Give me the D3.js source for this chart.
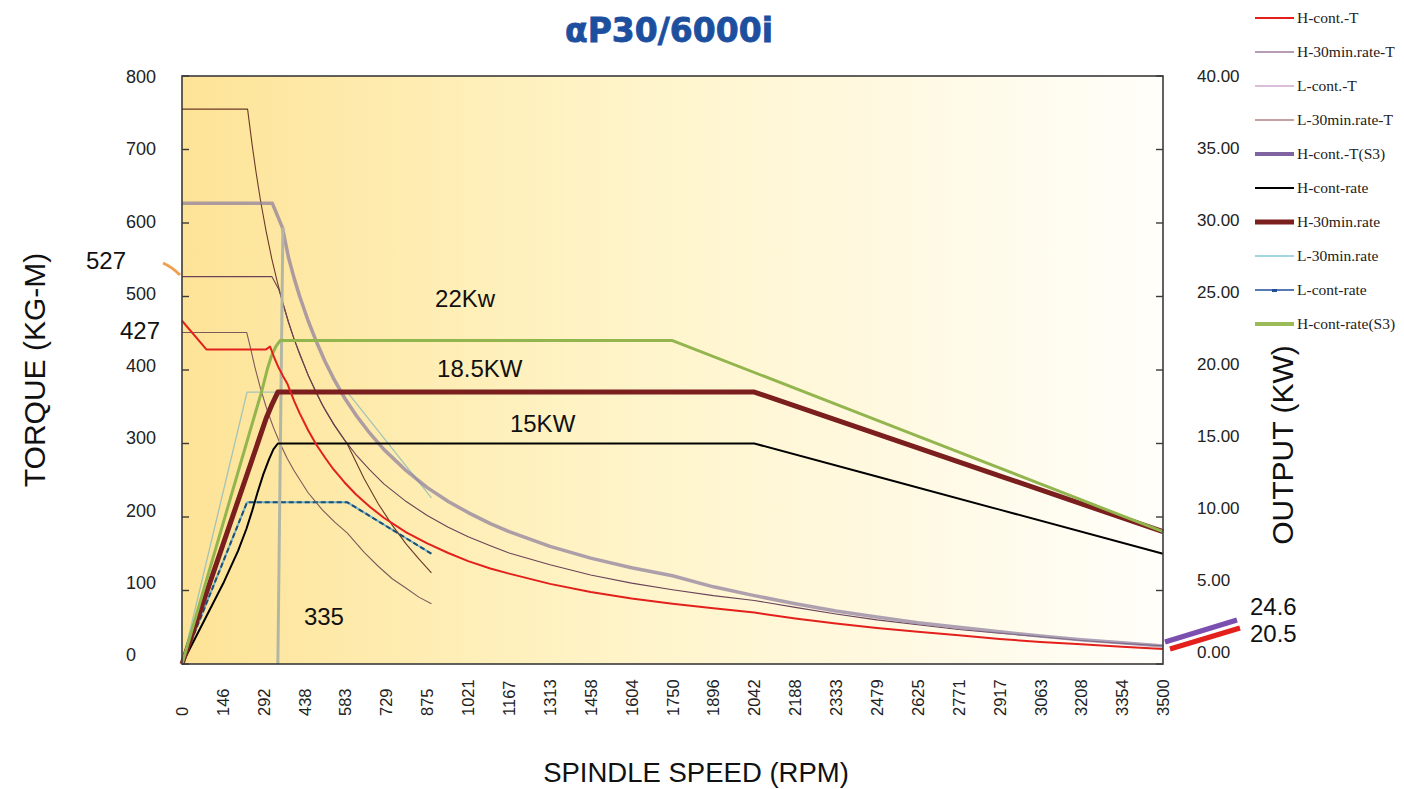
<!DOCTYPE html>
<html>
<head>
<meta charset="utf-8">
<script src="https://cdn.jsdelivr.net/npm/d3@7"></script>
<style>
  body { margin: 0; background: #fff; }
  svg { display: block; font-family: "Liberation Sans", Arial, sans-serif; }
</style>
</head>
<body>
<div id="chart"></div>
<script>
// ---- torque curves (rpm, value on the TORQUE axis) ----
const hContT = [[0,467],[87,428],[300,428],[314,432],[330,416],[345,403],[360,392],[375,382],[400,358],[420,341],[450,318],[480,298],[510,281],[540,265],[580,247],[620,231],[670,214],[720,199],[800,179],[875,164],[950,151],[1021,140],[1100,130],[1167,123],[1313,109],[1458,98],[1604,89],[1750,82],[1896,76],[2042,70],[2188,62],[2333,55],[2479,49],[2625,44],[2771,39],[2917,34],[3063,30],[3208,27],[3354,23.5],[3500,20.5]];
const hMin30T = [[0,527],[321,527],[345,510],[360,491],[380,465],[400,442],[420,421],[450,393],[480,368],[510,346],[540,327],[580,305],[620,285],[670,264],[720,245],[800,221],[875,202],[950,186],[1021,173],[1100,161],[1167,151],[1313,135],[1458,121],[1604,110],[1750,101],[1896,93],[2042,86.5],[2188,77],[2333,68],[2479,60],[2625,53.5],[2771,47],[2917,42],[3063,37],[3208,32],[3354,28],[3500,24.6]];
const lContT = [[0,451],[231,451],[245,429],[260,404],[280,375],[300,350],[325,323],[350,300],[375,280],[400,263],[450,233],[500,210],[545,193],[590,178],[650,152],[700,133],[750,116],[800,103],[845,91],[890,82]];
const lMin30T = [[0,755],[234,755],[250,707],[265,667],[280,631],[300,589],[320,552],[340,520],[360,491],[380,465],[400,442],[450,393],[500,353],[545,324],[590,299],[650,252],[700,218],[750,189],[800,163],[845,143],[890,124]];
const hContTS3 = [[0,627],[322,627],[358,594],[380,553],[400,525],[420,500],[450,467],[480,438],[510,412],[540,389],[580,362],[620,339],[670,314],[720,292],[800,263],[875,240],[950,221],[1021,206],[1100,191],[1167,180],[1313,160],[1458,144],[1604,131],[1750,120],[1896,105],[2042,93],[2188,82],[2333,72],[2479,64],[2625,56],[2771,50],[2917,44],[3063,38],[3208,33],[3354,29],[3500,24.6]];

// ---- output curves (rpm, kW) ----
const hContRate = [[0,0],[150,5.6],[200,7.7],[230,9.2],[250,10.4],[270,11.7],[290,12.9],[310,13.9],[326,14.6],[342,15],[2042,15],[2479,12.75],[2917,10.5],[3500,7.5]];
const hMin30Rate = [[0,0],[243,13.5],[275,15.3],[300,16.7],[322,17.7],[342,18.5],[2042,18.5],[2479,15.65],[2917,12.8],[3500,9]];
const lMin30Rate = [[0,0],[232,18.5],[590,18.5],[890,11.3]];
const lContRate = [[0,0],[232,11],[590,11],[890,7.5]];
const hContRateS3 = [[0,0],[285,18.6],[305,20.1],[320,21],[335,21.6],[350,22],[1750,22],[2625,15.5],[3500,9]];

// 335 rpm marker line (torque units)
const markerLine = [[360,594],[342,0]];

// ---- axes ----
const xTickLabels = ["0","146","292","438","583","729","875","1021","1167","1313","1458","1604","1750","1896","2042","2188","2333","2479","2625","2771","2917","3063","3208","3354","3500"];
const torqueTicks = [0,100,200,300,400,500,600,700,800];
const powerTicks = [0,5,10,15,20,25,30,35,40];

// ---- legend ----
const legendNames = ["H-cont.-T","H-30min.rate-T","L-cont.-T","L-30min.rate-T","H-cont.-T(S3)","H-cont-rate","H-30min.rate","L-30min.rate","L-cont-rate","H-cont-rate(S3)"];
const legendColors = ["#e3201b","#6e3b6e","#b57fb8","#8e4444","#8064a2","#000000","#7b1e1e","#4bacc6","#1f4e9a","#9bbb59"];
const legendWidths = [2,1.2,1.2,1.2,4,2.2,5,1.2,1.5,4];

const width = 1404, height = 789;
const margin = { left: 182, right: 1163, top: 76, bottom: 664 };

const svg = d3.select("#chart").append("svg")
    .attr("width", width)
    .attr("height", height);

// ========== SCALES ==========
const xScale = d3.scaleLinear().domain([0, 3500]).range([margin.left, margin.right]);
const yT = d3.scaleLinear().domain([0, 800]).range([margin.bottom, margin.top]);
const yP = d3.scaleLinear().domain([0, 40]).range([margin.bottom, margin.top]);
// tick labels sit on a slightly squeezed scale in the original
const yTLab = d3.scaleLinear().domain([0, 800]).range([661, 83]);
const yPLab = d3.scaleLinear().domain([0, 40]).range([658, 82]);

// ========== PLOT BACKGROUND ==========
const defs = svg.append("defs");
const grad = defs.append("linearGradient").attr("id", "bg").attr("x1", "0%").attr("x2", "100%");
grad.append("stop").attr("offset", "0%").attr("stop-color", "#fde397");
grad.append("stop").attr("offset", "40%").attr("stop-color", "#fff3c4");
grad.append("stop").attr("offset", "100%").attr("stop-color", "#fffefa");

svg.append("rect")
    .attr("x", margin.left).attr("y", margin.top)
    .attr("width", margin.right - margin.left)
    .attr("height", margin.bottom - margin.top)
    .attr("fill", "url(#bg)");

// ========== LINES ==========
const lineT = d3.line().x(d => xScale(d[0])).y(d => yT(d[1]));
const lineP = d3.line().x(d => xScale(d[0])).y(d => yP(d[1]));
const plot = svg.append("g");

const draw = (data, gen, color, w, extra) => {
    const p = plot.append("path")
        .attr("d", gen(data))
        .attr("fill", "none")
        .attr("stroke", color)
        .attr("stroke-width", w)
        .attr("stroke-linejoin", "round");
    if (extra) extra(p);
    return p;
};

draw(lMin30Rate, lineP, "#a3c4b6", 1.3);
draw(lContRate, lineP, "#6fb3c7", 2);
draw(lContRate, lineP, "#1f4e79", 2, p => p.attr("stroke-dasharray", "5,3"));
draw(lContT, lineT, "#7c5a5c", 1.1);
draw(lMin30T, lineT, "#6a3a26", 1.1);
draw(hMin30T, lineT, "#6b4358", 1.1);
draw(hContTS3, lineT, "#8a7a9c", 3.5, p => p.attr("stroke-opacity", 0.7));
draw(markerLine, lineT, "#b4b6a4", 3);
draw(hContRate, lineP, "#000", 2);
draw(hMin30Rate, lineP, "#7b1e1e", 5);
draw(hContRateS3, lineP, "#92b54e", 3);
draw(hContT, lineT, "#e3201b", 2);

// ========== FRAME + TICKS ==========
svg.append("rect")
    .attr("x", margin.left).attr("y", margin.top)
    .attr("width", margin.right - margin.left)
    .attr("height", margin.bottom - margin.top)
    .attr("fill", "none").attr("stroke", "#3a3a3a").attr("stroke-width", 1.6);

svg.selectAll(".tickL").data(torqueTicks).join("line")
    .attr("x1", margin.left).attr("x2", margin.left + 7)
    .attr("y1", d => yT(d)).attr("y2", d => yT(d))
    .attr("stroke", "#3a3a3a").attr("stroke-width", 1.4);
svg.selectAll(".tickR").data(powerTicks).join("line")
    .attr("x1", margin.right - 7).attr("x2", margin.right)
    .attr("y1", d => yP(d)).attr("y2", d => yP(d))
    .attr("stroke", "#3a3a3a").attr("stroke-width", 1.4);

svg.selectAll(".labL").data(torqueTicks).join("text")
    .attr("x", 126).attr("y", d => yTLab(d))
    .attr("font-size", 18).attr("fill", "#222")
    .text(d => d);
svg.selectAll(".labR").data(powerTicks).join("text")
    .attr("x", 1197).attr("y", d => yPLab(d))
    .attr("font-size", 17).attr("fill", "#222")
    .text(d => d.toFixed(2));
svg.selectAll(".labX").data(xTickLabels).join("text")
    .attr("transform", d => `translate(${xScale(+d) + 6}, 716) rotate(-90)`)
    .attr("font-size", 16.5).attr("fill", "#222")
    .text(d => d);

// ========== TITLES ==========
svg.append("text")
    .attr("x", 669).attr("y", 42)
    .attr("text-anchor", "middle")
    .attr("font-family", "'DejaVu Sans', sans-serif")
    .attr("font-weight", "bold").attr("font-size", 33)
    .attr("fill", "#1d4f9f")
    .attr("stroke", "#1d4f9f").attr("stroke-width", 0.8)
    .text("αP30/6000i");

svg.append("text")
    .attr("transform", "translate(45, 370) rotate(-90)")
    .attr("text-anchor", "middle").attr("font-size", 30).attr("fill", "#111")
    .text("TORQUE (KG-M)");
svg.append("text")
    .attr("transform", "translate(1293, 445) rotate(-90)")
    .attr("text-anchor", "middle").attr("font-size", 30).attr("fill", "#111")
    .text("OUTPUT (KW)");
svg.append("text")
    .attr("x", 696).attr("y", 782)
    .attr("text-anchor", "middle").attr("font-size", 27.5).attr("fill", "#111")
    .text("SPINDLE SPEED (RPM)");

// ========== ANNOTATIONS ==========
const note = (x, y, t, size) => svg.append("text")
    .attr("x", x).attr("y", y).attr("font-size", size || 24).attr("fill", "#111").text(t);

note(xScale(903), yP(24.3), "22Kw");
note(xScale(910), yP(19.5), "18.5KW");
note(xScale(1170), yP(15.8), "15KW");
note(xScale(435), yT(53), "335");
note(86, 269, "527");
note(120, 339, "427");
note(1250, 615, "24.6");
note(1250, 642, "20.5");

svg.append("path").attr("d", "M163,263 Q172,267 180,275")
    .attr("fill", "none").attr("stroke", "#f0a050").attr("stroke-width", 3);
svg.append("line").attr("x1", 1165).attr("y1", 642).attr("x2", 1237).attr("y2", 620)
    .attr("stroke", "#7b4fb0").attr("stroke-width", 5);
svg.append("line").attr("x1", 1170).attr("y1", 649).attr("x2", 1240).attr("y2", 628)
    .attr("stroke", "#e3201b").attr("stroke-width", 5);

// ========== LEGEND ==========
const legend = svg.append("g").attr("transform", "translate(1255, 18)");
legendNames.forEach((name, i) => {
    const g = legend.append("g").attr("transform", `translate(0, ${i * 34})`);
    g.append("line")
        .attr("x1", 0).attr("x2", 39).attr("y1", 0).attr("y2", 0)
        .attr("stroke", legendColors[i]).attr("stroke-width", legendWidths[i]);
    if (name === "L-cont-rate") {
        g.append("rect").attr("x", 17).attr("y", -1).attr("width", 5).attr("height", 3)
            .attr("fill", legendColors[i]);
    }
    g.append("text")
        .attr("x", 42).attr("y", 5)
        .attr("font-family", "'Liberation Serif', 'Times New Roman', serif")
        .attr("font-size", 15.5).attr("fill", "#222")
        .text(name);
});
</script>
</body>
</html>
